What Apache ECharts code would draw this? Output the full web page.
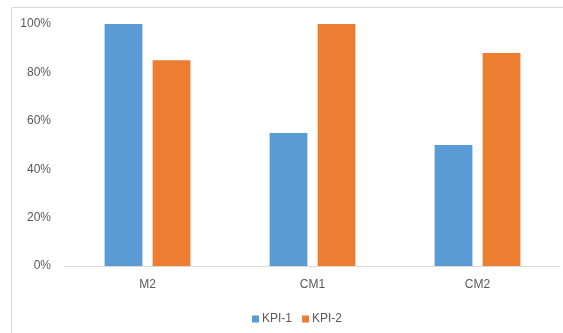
<!DOCTYPE html>
<html>
<head>
<meta charset="utf-8">
<script src="https://cdn.jsdelivr.net/npm/echarts@6/dist/echarts.min.js"></script>
<style>
  html, body { margin: 0; padding: 0; background: #fff; }
  #chart { width: 563px; height: 333px; }
</style>
</head>
<body>
<div id="chart"></div>
<script>
// Categories and KPI values (percent)
const categories = ['M2', 'CM1', 'CM2'];
const kpi1 = [100, 55, 50];
const kpi2 = [85, 100, 88];
const yTicks = [0, 20, 40, 60, 80, 100];

const textColor = '#595959';
const font = 'Liberation Sans, Arial, sans-serif';

const chart = echarts.init(document.getElementById('chart'), null, { renderer: 'canvas' });
chart.setOption({
  animation: false,
  backgroundColor: '#ffffff',
  graphic: [{
    type: 'rect',
    shape: { x: 11.5, y: 7.5, width: 700, height: 500 },
    style: { fill: 'none', stroke: '#D9D9D9', lineWidth: 1 },
    silent: true
  }],
  grid: { left: 65, right: 3, top: 24, bottom: 67 },
  legend: {
    top: 308,
    left: 247,
    itemWidth: 7,
    itemHeight: 7,
    itemGap: 10,
    icon: 'rect',
    textStyle: { color: textColor, fontSize: 12, fontFamily: font, padding: [0, 0, 0, -2] },
    data: ['KPI-1', 'KPI-2']
  },
  xAxis: {
    type: 'category',
    data: categories,
    axisLine: { lineStyle: { color: '#D9D9D9', width: 1 } },
    axisTick: { show: false },
    axisLabel: { color: textColor, fontSize: 12, fontFamily: font, margin: 13 }
  },
  yAxis: {
    type: 'value',
    min: yTicks[0],
    max: yTicks[yTicks.length - 1],
    interval: 20,
    axisLine: { show: false },
    axisTick: { show: false },
    splitLine: { show: false },
    axisLabel: {
      color: textColor, fontSize: 12, fontFamily: font, margin: 14,
      padding: [3, 0, 0, 0],
      formatter: '{value}%'
    }
  },
  series: [
    {
      name: 'KPI-1', type: 'bar', data: kpi1,
      itemStyle: { color: '#5B9BD5' },
      barGap: '27%', barCategoryGap: '48%'
    },
    {
      name: 'KPI-2', type: 'bar', data: kpi2,
      itemStyle: { color: '#ED7D31' },
      barGap: '27%', barCategoryGap: '48%'
    }
  ]
});
</script>
</body>
</html>
